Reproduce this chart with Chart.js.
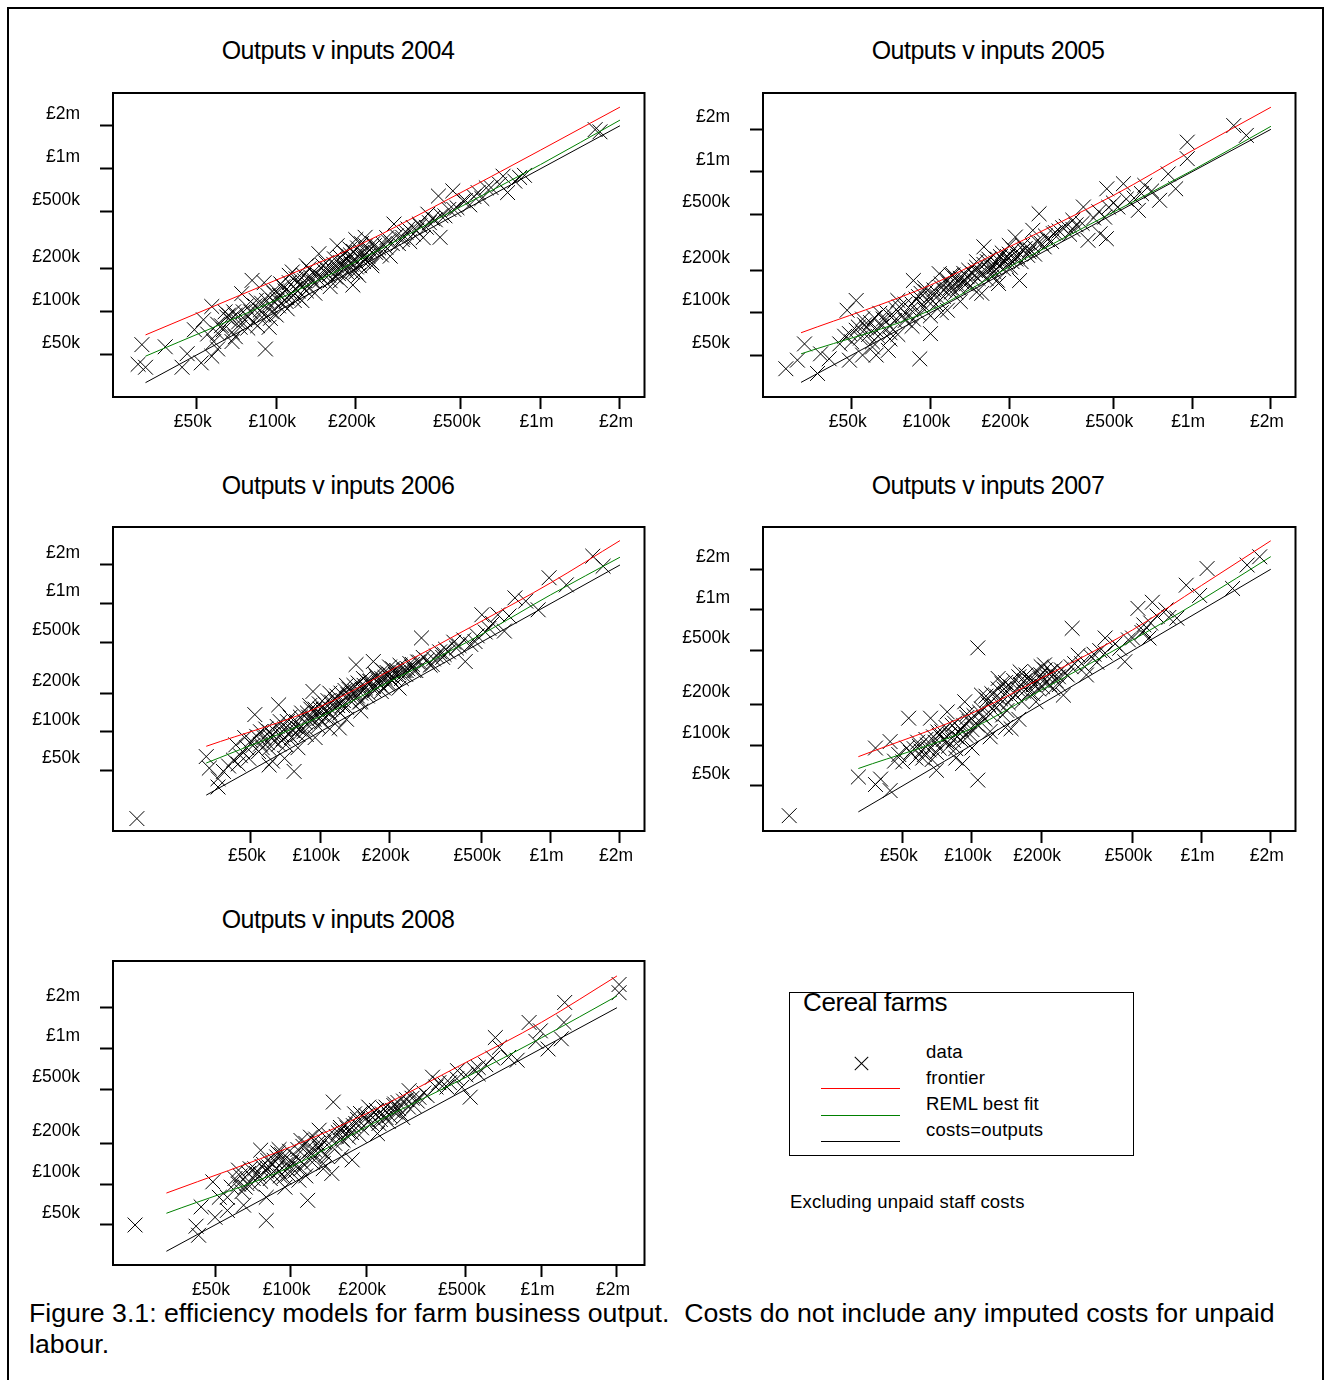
<!DOCTYPE html>
<html>
<head>
<meta charset="utf-8">
<script src="https://cdn.jsdelivr.net/npm/chart.js@4.4.1/dist/chart.umd.min.js"></script>
<style>
body { margin: 0; background: #fff; font-family: "Liberation Sans", Arial, sans-serif; color: #000; }
#page { position: relative; width: 1325px; height: 1380px; overflow: hidden; }
#outer { position: absolute; left: 7px; top: 7px; width: 1313px; height: 1400px; border: 2px solid #000; }
canvas { position: absolute; }
.title { position: absolute; font-size: 25px; letter-spacing: -0.5px; white-space: nowrap; transform: translate(-50%, -50%); }
.txt { position: absolute; white-space: nowrap; }
.leg { font-size: 18.5px; line-height: 20px; letter-spacing: 0.2px; }
.mark { position: absolute; height: 1px; background: #000; }
</style>
</head>
<body>
<div id="page">
  <div id="outer"></div>

  <div class="title" style="left:338px; top:50px;">Outputs v inputs 2004</div>
  <div class="title" style="left:988px; top:50px;">Outputs v inputs 2005</div>
  <div class="title" style="left:338px; top:485px;">Outputs v inputs 2006</div>
  <div class="title" style="left:988px; top:485px;">Outputs v inputs 2007</div>
  <div class="title" style="left:338px; top:919px;">Outputs v inputs 2008</div>

  <!-- legend -->
  <div style="position:absolute; left:789px; top:992px; width:343px; height:162px; border:1px solid #000;"></div>
  <div class="txt" style="left:803px; top:988px; font-size:26px; line-height:28px; letter-spacing:-0.4px;">Cereal farms</div>
  <div class="mark" style="left:852px; top:1063px; width:19px; transform:rotate(45deg);"></div>
  <div class="mark" style="left:852px; top:1063px; width:19px; transform:rotate(-45deg);"></div>
  <div class="mark" style="left:821px; top:1088px; width:79px; background:#ff0000;"></div>
  <div class="mark" style="left:821px; top:1115px; width:79px; background:#008000;"></div>
  <div class="mark" style="left:821px; top:1141px; width:79px; background:#000;"></div>
  <div class="txt leg" style="left:926px; top:1042px;">data</div>
  <div class="txt leg" style="left:926px; top:1068px;">frontier</div>
  <div class="txt leg" style="left:926px; top:1094px;">REML best fit</div>
  <div class="txt leg" style="left:926px; top:1120px;">costs=outputs</div>
  <div class="txt leg" style="left:790px; top:1192px; letter-spacing:0.2px;">Excluding unpaid staff costs</div>

  <div class="txt" style="left:29px; top:1298px; font-size:26.7px; line-height:31px;">Figure 3.1: efficiency models for farm business output.&nbsp; Costs do not include any imputed costs for unpaid<br>labour.</div>
</div>

<script>
// values in £ thousands
const tickVals   = [50, 100, 200, 500, 1000, 2000];
const tickLabels = ['£50k', '£100k', '£200k', '£500k', '£1m', '£2m'];

// x positions used for the fitted lines
const lineX = [32, 100, 200, 500, 1000, 2000];

// frontier and REML fits
const front2004 = [69, 167, 286, 682, 1350, 2700];
const reml2004  = [49, 121, 224, 544, 1070, 2190];
const front2005 = [72, 157, 293, 679, 1410, 2870];
const reml2005  = [51, 104, 211, 517, 1020, 2100];
const front2006 = [77, 157, 299, 726, 1450, 3100];
const reml2006  = [57, 131, 246, 573, 1170, 2300];
const front2007 = [82, 172, 312, 711, 1520, 3250];
const reml2007  = [67, 133, 255, 598, 1190, 2480];
const front2008 = [86, 188, 330, 790, 1560, 3430];
const reml2008  = [61, 134, 264, 614, 1200, 2440];

// farms: [costs, outputs]
const pts2004 = [
  [31,59],[30,43],[32,41],[38,57],[44,41],[46,51],[52,44],[57,49],[49,75],[53,88],[57,109],[60,71],
  [65,92],[69,100],[74,134],[81,166],[70,67],[78,77],[91,55],[94,78],[87,103],[101,121],[104,157],[112,180],
  [116,130],[125,150],[135,175],[145,255],[156,200],[168,175],[180,222],[190,275],[195,154],[201,206],[209,255],[217,332],
  [225,228],[241,268],[260,283],[279,411],[301,332],[330,389],[348,411],[375,482],[411,645],[466,701],[417,332],[435,469],
  [483,535],[510,598],[581,682],[624,736],[722,888],[751,682],[834,870],[1611,1880],[1680,1814],[600,620],
  [62,80],[66,95],[72,85],[75,100],[78,92],[83,110],[86,96],[92,120],[95,110],[98,135],[105,115],[108,140],
  [110,125],[118,145],[120,160],[122,125],[128,165],[130,140],[138,190],[140,160],[148,175],[150,210],[155,185],[160,165],
  [165,215],[170,195],[175,240],[178,205],[185,190],[188,245],[192,215],[198,235],[205,180],[210,300],[212,240],[220,260],
  [230,210],[235,290],[250,250],[265,310],[270,245],[290,300],[310,360],[320,310],[340,370],[360,330],[380,420],[400,440],
  [450,520],[540,560],[560,640],[700,780],[870,900],
  [55,70],[58,62],[60,82],[63,75],[64,100],[67,88],[68,72],[70,95],[73,78],[76,88],[77,110],[80,100],
  [82,85],[84,120],[88,115],[90,95],[93,130],[96,100],[97,120],[100,140],[102,110],[103,130],[106,150],[109,118],
  [112,160],[114,135],[117,120],[119,170],[121,140],[124,155],[127,180],[131,150],[133,200],[136,165],[142,185],[146,165],
  [151,195],[154,220],[158,180],[162,200],[166,235],[169,210],[172,185],[176,220],[181,260],[183,200],[187,230],[191,250],
  [194,190],[196,265],[200,225],[203,280],[207,210],[211,260],[214,225],[218,290],[222,245],[226,270],[232,300],[238,260],
  [244,280],[255,295],[262,330],[275,300],[285,340],[300,320],[315,380],[330,350],[350,400],[370,390],[390,450],[420,470],
  [470,520],[520,600],[650,740],[800,820],
  [60,55],[68,62],[85,80],[95,90],[100,95],[110,105],[125,120],[140,135],[160,150],[175,165],[200,190],[230,220],
  [90,160],[115,190],[130,210],[170,290],[200,320]
];
const pts2005 = [
  [28,40],[31,46],[33,60],[37,37],[38,51],[41,47],[49,46],[48,104],[52,122],[49,71],[53,79],[60,57],
  [62,50],[69,54],[64,99],[67,88],[75,122],[80,88],[86,169],[90,99],[91,47],[100,71],[92,137],[108,189],
  [116,104],[126,161],[135,170],[145,189],[157,137],[160,293],[175,211],[182,161],[196,236],[211,344],[219,169],[227,277],
  [246,384],[260,503],[272,293],[295,363],[330,410],[350,453],[384,562],[400,326],[445,363],[463,476],[472,757],[470,335],
  [520,562],[546,822],[623,532],[659,800],[751,627],[810,965],[865,757],[958,1622],[958,1238],[1442,2126],[1611,1811],
  [56,82],[58,70],[62,75],[66,90],[70,80],[72,95],[76,110],[82,95],[85,115],[88,125],[95,105],[98,120],
  [102,135],[105,115],[110,150],[112,130],[118,160],[120,140],[124,175],[128,150],[132,165],[138,180],[142,155],[148,200],
  [152,175],[158,190],[165,230],[168,200],[172,180],[178,225],[185,250],[190,205],[195,215],[200,260],[205,230],[215,250],
  [225,300],[235,255],[240,280],[255,320],[280,330],[310,380],[340,360],[360,420],[420,470],[500,600],[600,650],[700,730],
  [45,60],[47,68],[50,62],[52,75],[54,66],[55,90],[57,78],[59,85],[61,92],[63,68],[65,80],[68,100],
  [70,72],[73,88],[74,105],[78,95],[80,115],[84,105],[86,90],[90,130],[93,115],[96,140],[100,125],[103,145],
  [106,130],[110,160],[113,145],[116,170],[119,150],[122,185],[125,140],[130,175],[134,190],[137,160],[140,200],[144,175],
  [150,210],[155,190],[160,220],[163,175],[167,240],[170,210],[175,195],[180,240],[183,215],[188,265],[192,230],[197,250],
  [202,210],[207,280],[212,240],[218,265],[222,230],[230,285],[238,270],[245,300],[250,260],[265,310],[275,350],[290,320],
  [300,370],[320,400],[350,390],[380,430],[440,520],[480,560],[560,640],[640,700],
  [55,50],[60,62],[70,65],[75,70],[85,80],[100,95],[110,100],[130,120],[150,140],[180,170],
  [95,150],[120,185],[150,230],[200,300]
];
const pts2006 = [
  [16,21],[32,64],[33,52],[36,43],[38,49],[40,54],[36,37],[43,79],[47,90],[52,136],[55,100],[60,74],
  [62,59],[66,162],[71,79],[77,49],[84,106],[93,206],[99,127],[107,146],[117,172],[121,107],[132,195],[143,334],
  [150,172],[164,247],[170,353],[184,206],[201,262],[220,219],[231,300],[251,335],[275,539],[306,335],[345,401],[390,450],
  [426,353],[470,505],[503,818],[540,640],[590,818],[630,610],[700,1108],[780,1045],[883,894],[985,1590],[1170,1400],[1524,2343],
  [1690,1956],
  [45,65],[48,75],[50,85],[54,70],[57,90],[60,100],[63,85],[65,110],[68,95],[72,120],[75,90],[78,110],
  [82,130],[85,100],[88,140],[90,120],[95,150],[98,110],[102,135],[105,165],[110,140],[115,155],[118,190],[125,160],
  [128,210],[135,175],[140,230],[145,190],[152,215],[158,250],[162,200],[168,230],[175,270],[180,240],[188,220],[195,290],
  [205,250],[212,280],[225,260],[240,310],[260,300],[290,360],[320,390],[360,420],[380,500],[450,480],[560,700],[660,800],
  [55,80],[62,95],[70,105],[80,95],[92,125],[100,150],[112,170],[122,140],[138,200],[148,170],[155,230],[172,210],
  [185,260],[198,240],[215,300],[235,280],[250,320],[270,350],[300,330],[340,380],
  [42,60],[44,56],[46,70],[49,62],[51,78],[53,92],[56,75],[58,105],[59,82],[61,90],[64,100],[66,80],
  [67,120],[69,88],[71,108],[73,95],[74,130],[76,102],[79,120],[81,105],[83,140],[86,118],[87,95],[89,130],
  [91,150],[94,125],[96,140],[99,165],[101,120],[103,150],[106,130],[108,175],[111,150],[113,130],[116,180],[119,160],
  [123,200],[126,175],[130,155],[133,215],[136,185],[142,205],[146,240],[150,200],[154,260],[157,220],[160,190],[165,250],
  [170,225],[173,280],[178,255],[182,230],[187,300],[191,265],[196,235],[200,280],[206,310],[210,260],[218,290],[222,330],
  [228,280],[236,300],[245,340],[255,300],[265,350],[280,380],[310,370],[330,420],[350,440],[400,470],[420,520],[480,560],
  [520,600],
  [60,55],[70,62],[80,75],[95,90],[110,105],[130,125],[150,145],[90,160],[110,200],[130,230],[200,320]
];
const pts2007 = [
  [16,30],[32,58],[38,95],[38,51],[40,56],[44,46],[44,106],[46,76],[53,158],[56,94],[61,80],[66,158],
  [72,118],[78,176],[85,94],[91,73],[93,209],[106,55],[106,524],[110,234],[120,126],[130,311],[136,167],[148,132],
  [162,348],[180,295],[190,209],[207,392],[225,262],[250,234],[273,731],[290,462],[315,330],[350,410],[380,620],[463,414],
  [528,1027],[560,775],[590,620],[610,1140],[700,1000],[780,870],[857,1525],[980,1280],[1056,2025],[1364,1442],[1578,2150],[1790,2475],
  [48,85],[52,95],[58,105],[60,90],[64,100],[68,115],[70,88],[74,125],[78,105],[82,140],[86,115],[90,130],
  [95,160],[98,120],[104,145],[108,175],[114,155],[118,200],[124,180],[128,230],[132,200],[138,260],[142,180],[150,225],
  [158,260],[165,210],[170,300],[178,245],[185,280],[195,260],[200,330],[210,290],[220,350],[232,300],[240,280],[255,340],
  [270,380],[300,400],[330,450],[360,500],[420,560],[480,600],[550,680],[640,900],[720,880],
  [50,75],[54,88],[57,80],[59,98],[62,85],[63,110],[65,92],[67,78],[69,105],[71,125],[72,95],[75,110],
  [77,135],[79,98],[80,120],[83,108],[84,145],[87,125],[89,110],[92,140],[94,118],[97,150],[100,130],[102,165],
  [106,140],[110,185],[112,160],[116,215],[120,170],[122,240],[126,195],[130,260],[133,220],[135,285],[140,240],[144,205],
  [147,270],[152,300],[155,235],[160,320],[163,280],[168,250],[172,330],[176,270],[180,310],[184,240],[188,350],[192,290],
  [198,310],[203,270],[208,360],[213,320],[218,280],[225,330],[230,370],[238,320],[245,360],[260,330],[280,400],[310,380],
  [340,470],[380,480],[440,520],[500,620],[560,700],[600,800],
  [70,65],[85,80],[100,95],[120,115],[140,135],[160,155],[95,170],[115,230],[140,290],[200,380]
];
const pts2008 = [
  [24,50],[42,49],[43,42],[44,68],[49,104],[50,57],[52,80],[56,64],[62,127],[67,101],[76,178],[80,54],
  [82,134],[88,159],[94,113],[103,142],[108,107],[117,76],[120,222],[125,178],[135,142],[146,120],[148,403],[158,262],
  [170,222],[176,151],[190,332],[205,370],[222,236],[240,310],[260,390],[280,310],[297,489],[325,437],[368,615],[410,545],
  [463,687],[482,519],[520,438],[560,725],[655,1205],[680,1020],[740,860],[800,820],[893,1556],[990,1350],[950,1130],[1063,992],
  [1200,1180],[1230,1556],[1238,2186],[2039,2966],[2039,2580],
  [58,95],[60,110],[64,88],[68,120],[70,100],[72,130],[75,115],[78,140],[84,120],[86,150],[90,125],[92,165],
  [96,140],[98,118],[105,160],[110,130],[112,190],[118,165],[122,145],[128,200],[132,175],[140,160],[150,200],[155,240],
  [162,210],[168,260],[175,240],[182,280],[188,230],[198,300],[210,280],[215,340],[228,300],[235,360],[245,290],[255,350],
  [268,400],[275,330],[290,420],[310,380],[340,470],[380,520],[430,560],[500,640],[560,650],[640,850],
  [56,80],[62,100],[63,115],[66,95],[69,130],[71,110],[73,120],[76,105],[77,135],[80,125],[81,150],[83,110],
  [85,140],[88,130],[89,170],[91,115],[94,150],[97,130],[99,175],[101,145],[104,125],[107,180],[109,150],[113,140],
  [115,200],[119,175],[124,160],[126,215],[130,185],[136,205],[138,165],[142,230],[146,190],[152,225],[158,250],[160,215],
  [165,275],[170,245],[178,270],[185,300],[192,260],[200,320],[205,290],[212,310],[220,350],[225,280],[232,330],[240,370],
  [248,320],[258,380],[262,340],[270,360],[282,410],[295,370],[305,430],[320,410],[350,450],[390,560],[420,520],[460,600],
  [540,700],[600,760],
  [65,70],[80,80],[95,95],[115,115],[135,130],[160,160],[90,180],[110,210],[130,250],[180,330]
];

// frame position on the page and axis ranges per panel
const panels = [
  { left: 113, top: 93,  w: 533, h: 304, pts: pts2004, front: front2004, reml: reml2004, xMin: 24.1, xMax: 2477, yMin: 25.4,  yMax: 3388 },
  { left: 763, top: 93,  w: 534, h: 304, pts: pts2005, front: front2005, reml: reml2005, xMin: 22.9, xMax: 2483, yMin: 25.2,  yMax: 3620 },
  { left: 113, top: 527, w: 533, h: 304, pts: pts2006, front: front2006, reml: reml2006, xMin: 12.6, xMax: 2556, yMin: 16.8,  yMax: 3958 },
  { left: 763, top: 527, w: 534, h: 304, pts: pts2007, front: front2007, reml: reml2007, xMin: 12.3, xMax: 2563, yMin: 23.1,  yMax: 4111 },
  { left: 113, top: 961, w: 533, h: 304, pts: pts2008, front: front2008, reml: reml2008, xMin: 19.6, xMax: 2575, yMin: 25.35, yMax: 4420 }
];

const PAD_L = 105, PAD_T = 40, PAD_R = 10, PAD_B = 45;
const FONT = "'Liberation Sans', Arial, sans-serif";

// box round the plot area
const framePlugin = {
  id: 'frame',
  afterDatasetsDraw(chart) {
    const { ctx, chartArea: a } = chart;
    ctx.save();
    ctx.strokeStyle = '#000';
    ctx.lineWidth = 2;
    ctx.strokeRect(a.left, a.top, a.right - a.left, a.bottom - a.top);
    ctx.restore();
  }
};

function axisOpts(isX, min, max) {
  return {
    type: 'logarithmic',
    position: isX ? 'bottom' : 'left',
    min: min,
    max: max,
    bounds: 'data',
    afterBuildTicks: s => { s.ticks = tickVals.map(v => ({ value: v })); },
    afterFit: s => { if (isX) s.height = PAD_B; else s.width = PAD_L; },
    grid: {
      display: true, drawOnChartArea: false, drawTicks: true,
      tickLength: isX ? 12 : 13, tickWidth: 2, tickColor: '#000', color: '#000'
    },
    border: { display: false },
    ticks: {
      autoSkip: false, maxRotation: 0, minRotation: 0,
      padding: isX ? 3 : 20,
      labelOffset: isX ? -4 : -12,
      color: '#000',
      font: { family: FONT, size: 17.5 },
      callback: (v, i) => tickLabels[i]
    }
  };
}

function drawPanel(p) {
  const cv = document.createElement('canvas');
  cv.width = p.w + PAD_L + PAD_R;
  cv.height = p.h + PAD_T + PAD_B;
  cv.style.left = (p.left - PAD_L) + 'px';
  cv.style.top = (p.top - PAD_T) + 'px';
  document.getElementById('page').appendChild(cv);

  new Chart(cv.getContext('2d'), {
    type: 'scatter',
    data: {
      datasets: [
        {
          type: 'line', label: 'frontier',
          data: lineX.map((x, i) => ({ x: x, y: p.front[i] })),
          borderColor: '#ff0000', borderWidth: 1, pointRadius: 0, cubicInterpolationMode: 'monotone'
        },
        {
          type: 'line', label: 'REML best fit',
          data: lineX.map((x, i) => ({ x: x, y: p.reml[i] })),
          borderColor: '#008000', borderWidth: 1, pointRadius: 0, cubicInterpolationMode: 'monotone'
        },
        {
          type: 'line', label: 'costs=outputs',
          data: [lineX[0], lineX[lineX.length - 1]].map(x => ({ x: x, y: x })),
          borderColor: '#000', borderWidth: 1, pointRadius: 0
        },
        {
          label: 'data',
          data: p.pts.map(d => ({ x: d[0], y: d[1] })),
          pointStyle: 'crossRot', pointRadius: 10.5,
          borderColor: '#000', borderWidth: 1, backgroundColor: 'rgba(0,0,0,0)'
        }
      ]
    },
    options: {
      responsive: false,
      animation: false,
      devicePixelRatio: 1,
      layout: { padding: { left: 0, top: PAD_T, right: PAD_R, bottom: 0 } },
      plugins: { legend: { display: false }, tooltip: { enabled: false } },
      scales: {
        x: axisOpts(true, p.xMin, p.xMax),
        y: axisOpts(false, p.yMin, p.yMax)
      }
    },
    plugins: [framePlugin]
  });
}

panels.forEach(drawPanel);
</script>
</body>
</html>
